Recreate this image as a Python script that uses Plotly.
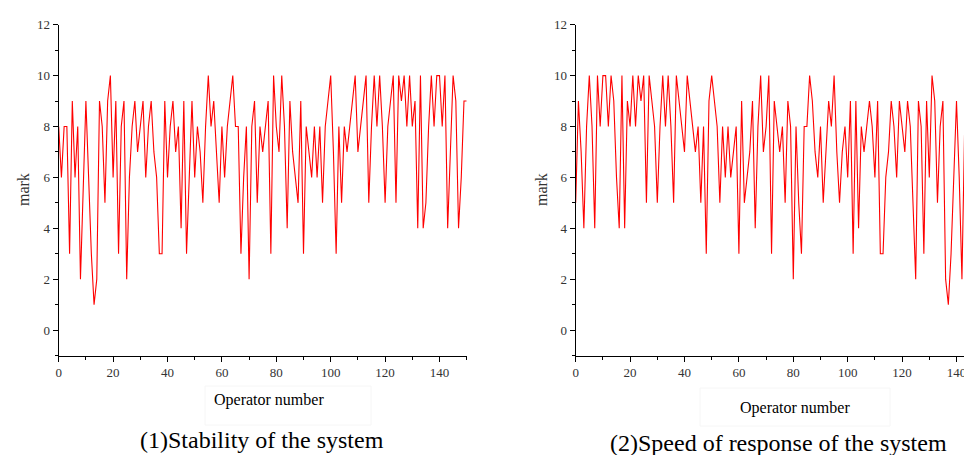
import plotly.graph_objects as go

W, H = 972, 455

operator_numbers = list(range(151))

stability_marks = [
    8, 6, 8, 8, 3, 9, 6, 8, 2, 6, 9, 6, 3, 1, 2, 9, 8, 5, 9, 10,
    6, 9, 3, 8, 9, 2, 6, 8, 9, 7, 8, 9, 6, 8, 9, 7, 6, 3, 3, 9,
    6, 8, 9, 7, 8, 4, 9, 3, 6, 9, 6, 8, 7, 5, 8, 10, 8, 9, 7, 5,
    8, 6, 8, 9, 10, 8, 8, 3, 6, 8, 2, 8, 9, 5, 8, 7, 8, 9, 3, 10,
    8, 7, 10, 8, 4, 9, 7, 6, 5, 9, 3, 8, 7, 6, 8, 6, 8, 5, 8, 9,
    10, 7, 3, 8, 5, 8, 7, 8, 9, 10, 7, 8, 9, 10, 5, 8, 10, 8, 10, 8,
    5, 8, 9, 10, 5, 10, 9, 10, 8, 10, 8, 9, 4, 10, 4, 5, 8, 10, 8, 10,
    10, 8, 10, 4, 7, 10, 9, 4, 6, 9, 9,
]

response_marks = [
    5, 9, 7, 4, 8, 10, 8, 4, 10, 8, 10, 10, 8, 10, 9, 6, 4, 10, 4, 9,
    8, 10, 8, 10, 9, 10, 5, 10, 9, 8, 5, 8, 10, 8, 10, 8, 5, 10, 9, 8,
    7, 10, 9, 8, 7, 8, 5, 8, 3, 9, 10, 9, 8, 5, 8, 6, 8, 6, 7, 8,
    3, 9, 5, 6, 7, 9, 4, 8, 10, 7, 8, 10, 3, 9, 8, 7, 8, 5, 9, 8,
    2, 8, 5, 3, 8, 8, 10, 9, 7, 6, 8, 5, 7, 9, 8, 10, 7, 5, 7, 8,
    6, 9, 3, 9, 4, 8, 7, 8, 9, 8, 6, 9, 3, 3, 6, 7, 9, 8, 6, 9,
    8, 7, 9, 8, 5, 2, 9, 8, 3, 9, 6, 10, 9, 5, 8, 9, 2, 1, 3, 6,
    9, 6, 2, 8, 6, 9, 3, 8, 8, 6, 7,
]

y_ticks = [0, 2, 4, 6, 8, 10, 12]
x_ticks = [0, 20, 40, 60, 80, 100, 120, 140]

panel_titles = ["(1)Stability of the system", "(2)Speed of response of the system"]
x_title = "Operator number"
y_title = "mark"

SERIF = "Liberation Serif, Times New Roman, serif"
PX_PER_UNIT = 2.72

left_x0, left_x1 = 50.7, 50.7 + 150 * PX_PER_UNIT
right_x0 = 567.7
right_range_end = (W - right_x0) / PX_PER_UNIT
y_top, y_bot = 16.7, 347.5

def px(x):
    return x / W

def py(y):
    return 1 - y / H

fig = go.Figure()
fig.add_trace(go.Scatter(x=operator_numbers, y=stability_marks, mode="lines",
                         line=dict(color="#ff0000", width=1.1), xaxis="x", yaxis="y",
                         showlegend=False))
fig.add_trace(go.Scatter(x=operator_numbers, y=response_marks, mode="lines",
                         line=dict(color="#ff0000", width=1.1), xaxis="x2", yaxis="y2",
                         showlegend=False))

tickfont = dict(family=SERIF, size=13, color="#333333")

def xaxis(domain, rng, anchor):
    return dict(domain=domain, range=rng, anchor=anchor, tickvals=x_ticks,
                ticks="outside", ticklen=5, tickwidth=1.2, tickcolor="black",
                showline=True, linecolor="black", linewidth=1.4, showgrid=False,
                zeroline=False, tickfont=tickfont, automargin=False,
                minor=dict(tickvals=list(range(10, 151, 20)), ticks="outside",
                           ticklen=3, tickwidth=1.2, tickcolor="black", showgrid=False))

def yaxis(anchor):
    return dict(domain=[py(y_bot), py(y_top)], range=[-1, 12], anchor=anchor,
                tickvals=y_ticks, ticks="outside", ticklen=5, tickwidth=1.2,
                tickcolor="black", showline=True, linecolor="black", linewidth=1.4,
                showgrid=False, zeroline=False, tickfont=tickfont, automargin=False,
                minor=dict(tickvals=[-1, 1, 3, 5, 7, 9, 11], ticks="outside",
                           ticklen=3, tickwidth=1.2, tickcolor="black", showgrid=False))

fig.update_layout(
    width=W, height=H, margin=dict(l=0, r=0, t=0, b=0, autoexpand=False),
    paper_bgcolor="white", plot_bgcolor="white",
    xaxis=xaxis([px(left_x0), px(left_x1)], [0, 150], "y"),
    yaxis=yaxis("x"),
    xaxis2=xaxis([px(right_x0), 1.0], [0, right_range_end], "y2"),
    yaxis2=yaxis("x2"),
)

ann = []
# y-axis titles
for xc in (15, 533):
    ann.append(dict(text=y_title, x=px(xc), y=py(182), xref="paper", yref="paper",
                    xanchor="center", yanchor="middle",
                    showarrow=False, textangle=-90,
                    font=dict(family=SERIF, size=16, color="#333333")))
# x-axis titles
for xc, yc in ((261, 392), (787, 400)):
    ann.append(dict(text=x_title, x=px(xc), y=py(yc), xref="paper", yref="paper",
                    xanchor="center", yanchor="middle",
                    showarrow=False, font=dict(family=SERIF, size=16, color="black")))
# panel captions
for title, xc, yc in ((panel_titles[0], 254, 432), (panel_titles[1], 770, 435)):
    ann.append(dict(text=title, x=px(xc), y=py(yc), xref="paper", yref="paper",
                    xanchor="center", yanchor="middle",
                    showarrow=False, font=dict(family=SERIF, size=24, color="black")))
fig.update_layout(annotations=ann)

# faint boxes around axis titles
shapes = []
for x0, x1, y0, y1 in ((197, 363, 378, 417), (692, 882, 380, 418)):
    shapes.append(dict(type="rect", xref="paper", yref="paper",
                       x0=px(x0), x1=px(x1), y0=py(y1), y1=py(y0),
                       line=dict(color="#f6f6f6", width=1)))
fig.update_layout(shapes=shapes)

fig.write_html("out.html")
